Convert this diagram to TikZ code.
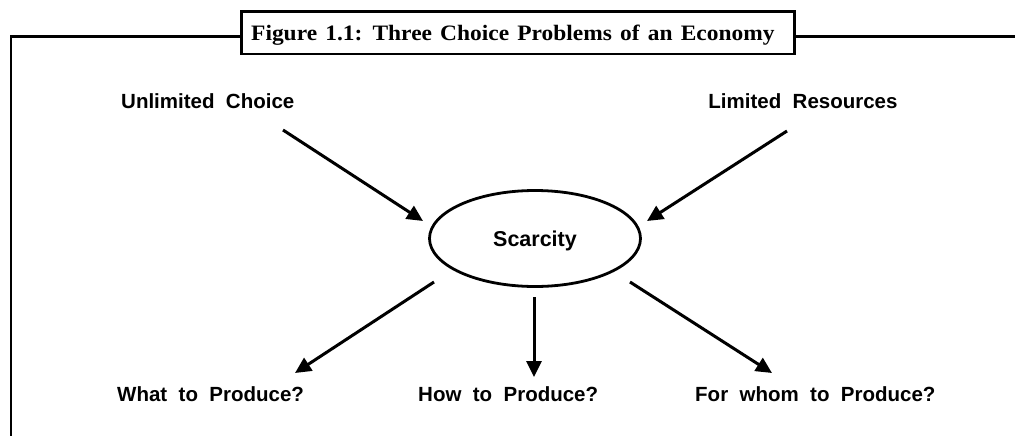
\documentclass[tikz,border=0pt]{standalone}
\usepackage{fontspec}
\setmainfont{Liberation Serif}
\newfontfamily\titlefont[FakeStretch=1.065,WordSpace=1.4]{Liberation Serif}
\newfontfamily\labfont[WordSpace=2.0]{Liberation Sans}
\usetikzlibrary{arrows.meta,shapes.geometric}
\begin{document}
\begin{tikzpicture}[x=1pt,y=-1pt,
  lab/.style={font=\labfont\bfseries\fontsize{20.5}{24}\selectfont, inner sep=0pt, anchor=base west},
  arr/.style={line width=3pt, -{Triangle[length=16pt,width=15pt]}},
  framestyle/.style={line width=2.8pt}]
\useasboundingbox (0,0) rectangle (1015,436);
% title box
\node[draw, line width=2.8pt, minimum width=553pt, minimum height=42.3pt, inner sep=0pt] (title) at (517.6,32.8) {};
\node[font=\titlefont\bfseries\fontsize{22}{24}\selectfont, inner sep=0pt, anchor=base west] (titletext) at (251,40.5) {Figure 1.1: Three Choice Problems of an Economy};
% frame
\draw[framestyle] (241,36.5) -- (11,36.5) -- (11,440);
\draw[framestyle] (794.3,36.5) -- (1020,36.5);
% labels
\node[lab] (uc) at (121,108) {Unlimited Choice};
\node[lab, anchor=base] (lr) at (803,108) {Limited Resources};
\node[lab] (what) at (117,401) {What to Produce?};
\node[lab] (how) at (418,401) {How to Produce?};
\node[lab] (whom) at (695,401) {For whom to Produce?};
% ellipse
\node[ellipse, draw, line width=2.8pt, minimum width=211pt, minimum height=96pt, inner sep=0pt,
  font=\labfont\bfseries\fontsize{21.5}{24}\selectfont, text height=15pt, text depth=0pt] (sc) at (535,238.5) {Scarcity};
% arrow end points
\coordinate (uc-out) at (283,130);
\coordinate (sc-in1) at (423,221);
\coordinate (lr-out) at (787,131);
\coordinate (sc-in2) at (647,221);
\coordinate (sc-out1) at (434,282);
\coordinate (what-in) at (295,373);
\coordinate (sc-out2) at (534,297);
\coordinate (how-in) at (534,377);
\coordinate (sc-out3) at (630,282);
\coordinate (whom-in) at (772,373);
\draw[arr] (uc-out) -- (sc-in1);
\draw[arr] (lr-out) -- (sc-in2);
\draw[arr] (sc-out1) -- (what-in);
\draw[arr] (sc-out2) -- (how-in);
\draw[arr] (sc-out3) -- (whom-in);
\end{tikzpicture}
\end{document}
